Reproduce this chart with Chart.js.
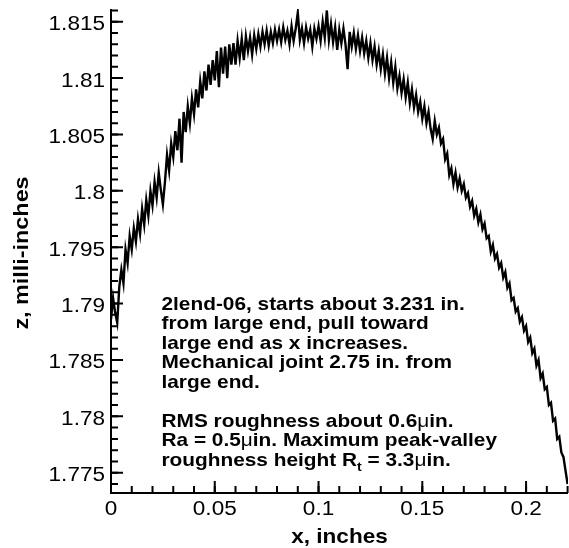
<!DOCTYPE html>
<html>
<head>
<meta charset="utf-8">
<script src="https://cdn.jsdelivr.net/npm/chart.js@4.4.1/dist/chart.umd.min.js"></script>
<style>
  body { margin: 0; background: #fff; }
  canvas { display: block; }
</style>
</head>
<body>
<canvas id="profileChart" width="569" height="548"></canvas>
<script>
// profile sampled every 0.001 in, starting at x = 0
const sampleStart = 0;
const sampleStep = 0.001;
const zProfile = [
  1.7886, 1.7905, 1.7892, 1.7883, 1.7915, 1.7930, 1.7918, 1.7948, 1.7936, 1.7960,
  1.7948, 1.7967, 1.7955, 1.7975, 1.7962, 1.7984, 1.7970, 1.7992, 1.7978, 1.8000,
  1.7987, 1.8008, 1.7994, 1.8016, 1.8001, 1.7988, 1.8008, 1.8032, 1.8018, 1.8042,
  1.8030, 1.8053, 1.8036, 1.8064, 1.8025, 1.8070, 1.8052, 1.8075, 1.8060, 1.8082,
  1.8068, 1.8090, 1.8074, 1.8097, 1.8082, 1.8106, 1.8089, 1.8112, 1.8094, 1.8116,
  1.8098, 1.8124, 1.8092, 1.8127, 1.8104, 1.8128, 1.8100, 1.8130, 1.8112, 1.8131,
  1.8112, 1.8133, 1.8118, 1.8135, 1.8116, 1.8137, 1.8124, 1.8136, 1.8121, 1.8138,
  1.8126, 1.8139, 1.8128, 1.8141, 1.8130, 1.8142, 1.8129, 1.8141, 1.8131, 1.8143,
  1.8133, 1.8143, 1.8132, 1.8145, 1.8134, 1.8142, 1.8130, 1.8146, 1.8133, 1.8144,
  1.8158, 1.8134, 1.8144, 1.8131, 1.8145, 1.8135, 1.8143, 1.8128, 1.8144, 1.8135,
  1.8146, 1.8133, 1.8150, 1.8136, 1.8160, 1.8134, 1.8148, 1.8132, 1.8145, 1.8125,
  1.8143, 1.8131, 1.8144, 1.8130, 1.8108, 1.8141, 1.8128, 1.8140, 1.8126, 1.8138,
  1.8124, 1.8136, 1.8122, 1.8133, 1.8118, 1.8131, 1.8116, 1.8128, 1.8112, 1.8124,
  1.8108, 1.8121, 1.8104, 1.8118, 1.8100, 1.8114, 1.8096, 1.8110, 1.8091, 1.8102,
  1.8087, 1.8099, 1.8083, 1.8096, 1.8078, 1.8090, 1.8074, 1.8085, 1.8070, 1.8079,
  1.8064, 1.8075, 1.8060, 1.8070, 1.8055, 1.8046, 1.8062, 1.8050, 1.8056, 1.8042,
  1.8046, 1.8028, 1.8033, 1.8014, 1.8020, 1.8006, 1.8016, 1.8003, 1.8011, 1.8000,
  1.8006, 1.7994, 1.7998, 1.7986, 1.7991, 1.7978, 1.7984, 1.7972, 1.7979, 1.7966,
  1.7971, 1.7958, 1.7960, 1.7946, 1.7952, 1.7940, 1.7944, 1.7932, 1.7936, 1.7923,
  1.7928, 1.7914, 1.7918, 1.7903, 1.7905, 1.7893, 1.7896, 1.7884, 1.7888, 1.7876,
  1.7880, 1.7866, 1.7870, 1.7856, 1.7860, 1.7845, 1.7850, 1.7834, 1.7838, 1.7824,
  1.7826, 1.7810, 1.7812, 1.7796, 1.7798, 1.7780, 1.7782, 1.7768, 1.7764, 1.7752,
  1.7740
];

const xTicks = [0, 0.05, 0.1, 0.15, 0.2];
const yTicks = [1.775, 1.78, 1.785, 1.79, 1.795, 1.8, 1.805, 1.81, 1.815];
const xTickLabels = ["0", "0.05", "0.1", "0.15", "0.2"];
const yTickLabels = ["1.775", "1.78", "1.785", "1.79", "1.795", "1.8", "1.805", "1.81", "1.815"];

const xTitle = "x, inches";
const yTitle = "z, milli-inches";

// annotation block; each line is a list of [text, style] parts (b = bold, m = mu, s = subscript)
const noteLines = [
  [["2lend-06, starts about 3.231 in.", "b"]],
  [["from large end, pull toward", "b"]],
  [["large end as x increases.", "b"]],
  [["Mechanical joint 2.75 in. from", "b"]],
  [["large end.", "b"]],
  [],
  [["RMS roughness about 0.6", "b"], ["\u03bc", "m"], ["in.", "b"]],
  [["Ra = 0.5", "b"], ["\u03bc", "m"], ["in. Maximum peak-valley", "b"]],
  [["roughness height R", "b"], ["t", "s"], [" = 3.3", "b"], ["\u03bc", "m"], ["in.", "b"]]
];

const points = zProfile.map((z, i) => ({ x: sampleStart + i * sampleStep, y: z }));

// the lettering in the source is a bit wider than Liberation Sans
const SX = 1.1;
const NOTE_SX = 1.12;

function drawRich(ctx, x, y, parts, size) {
  ctx.save();
  ctx.translate(x, y);
  ctx.scale(NOTE_SX, 1);
  let cx = 0;
  for (const [t, kind] of parts) {
    let dy = 0;
    if (kind === "m") ctx.font = `${size}px "Liberation Sans"`;
    else if (kind === "s") { ctx.font = `bold ${size * 0.68}px "Liberation Sans"`; dy = size * 0.32; }
    else ctx.font = `bold ${size}px "Liberation Sans"`;
    ctx.fillText(t, cx, dy);
    cx += ctx.measureText(t).width;
  }
  ctx.restore();
}

const axesPlugin = {
  id: "axesPlugin",
  afterDraw(chart) {
    const { ctx, chartArea: a, scales: { x, y } } = chart;
    ctx.save();
    ctx.strokeStyle = "#000";
    ctx.fillStyle = "#000";
    ctx.lineWidth = 2;

    // minor ticks
    ctx.beginPath();
    for (let v = 0; v <= x.max + 1e-9; v += 0.01) {
      const px = x.getPixelForValue(v);
      ctx.moveTo(px, a.bottom); ctx.lineTo(px, a.bottom - 7);
    }
    for (let k = Math.ceil(y.min * 1000); k <= Math.floor(y.max * 1000); k++) {
      const py = y.getPixelForValue(k / 1000);
      ctx.moveTo(a.left, py); ctx.lineTo(a.left + 7, py);
    }
    ctx.stroke();

    // major ticks
    ctx.beginPath();
    xTicks.forEach(v => {
      const px = x.getPixelForValue(v);
      ctx.moveTo(px, a.bottom); ctx.lineTo(px, a.bottom - 12);
    });
    yTicks.forEach(v => {
      const py = y.getPixelForValue(v);
      ctx.moveTo(a.left, py); ctx.lineTo(a.left + 12, py);
    });
    ctx.stroke();

    // axis lines
    ctx.beginPath();
    ctx.moveTo(a.left, a.top);
    ctx.lineTo(a.left, a.bottom);
    ctx.lineTo(a.right, a.bottom);
    ctx.stroke();

    // tick labels
    ctx.font = '20.5px "Liberation Sans"';
    ctx.textBaseline = "alphabetic";
    xTicks.forEach((v, i) => {
      ctx.save();
      ctx.translate(x.getPixelForValue(v), a.bottom + 22);
      ctx.scale(SX, 1);
      ctx.textAlign = "center";
      ctx.fillText(xTickLabels[i], 0, 0);
      ctx.restore();
    });
    yTicks.forEach((v, i) => {
      ctx.save();
      ctx.translate(a.left - 6, y.getPixelForValue(v) + 8.5);
      ctx.scale(SX, 1);
      ctx.textAlign = "right";
      ctx.fillText(yTickLabels[i], 0, 0);
      ctx.restore();
    });

    // axis titles
    ctx.font = 'bold 20.5px "Liberation Sans"';
    ctx.save();
    ctx.translate((a.left + a.right) / 2, 543);
    ctx.scale(SX, 1);
    ctx.textAlign = "center";
    ctx.fillText(xTitle, 0, 0);
    ctx.restore();

    ctx.save();
    ctx.translate(28, (a.top + a.bottom) / 2 + 2);
    ctx.rotate(-Math.PI / 2);
    ctx.scale(1.14, 1);
    ctx.textAlign = "center";
    ctx.fillText(yTitle, 0, 0);
    ctx.restore();

    // annotation
    ctx.textAlign = "left";
    noteLines.forEach((parts, i) => {
      drawRich(ctx, 161.5, 309.5 + i * 19.5, parts, 18.6);
    });
    ctx.restore();
  }
};

new Chart(document.getElementById("profileChart").getContext("2d"), {
  type: "line",
  data: {
    datasets: [{
      data: points,
      borderColor: "#000",
      borderWidth: 2.4,
      borderJoinStyle: "miter",
      pointRadius: 0,
      tension: 0,
      fill: false
    }]
  },
  options: {
    responsive: false,
    animation: false,
    devicePixelRatio: 1,
    layout: { padding: { left: 111, right: 1, top: 9, bottom: 55 } },
    plugins: { legend: { display: false }, tooltip: { enabled: false } },
    scales: {
      x: { type: "linear", display: false, min: 0, max: 0.2202 },
      y: { type: "linear", display: false, min: 1.7732, max: 1.81613 }
    }
  },
  plugins: [axesPlugin]
});
</script>
</body>
</html>
